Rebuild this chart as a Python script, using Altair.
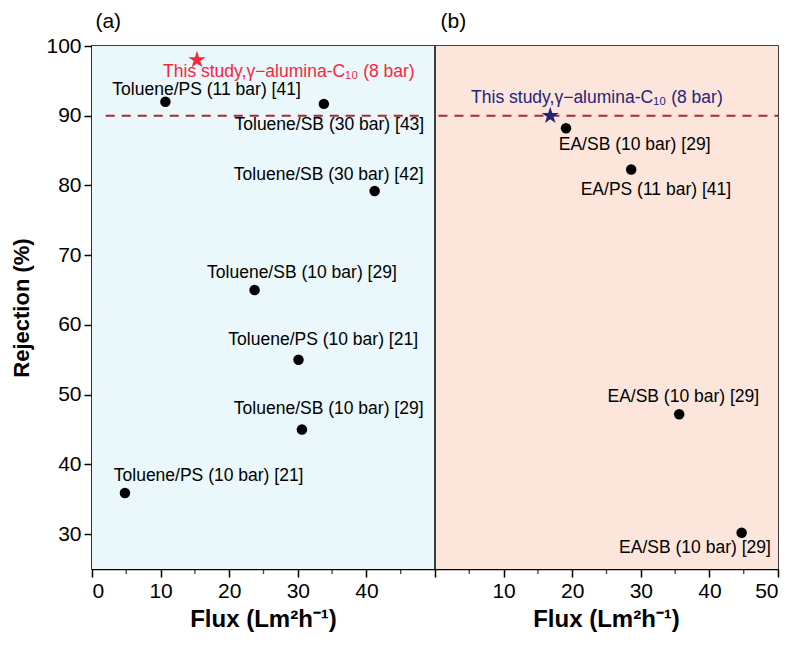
import altair as alt
import pandas as pd

FONT = "Liberation Sans"

# ---- data ----
left_flux = [10.7, 33.8, 41.2, 23.7, 30.1, 30.6, 4.8]
left_rej = [92.0, 91.7, 79.2, 65.0, 55.0, 45.0, 35.9]
left_labels = ["Toluene/PS (11 bar) [41]", "Toluene/SB (30 bar) [43]", "Toluene/SB (30 bar) [42]",
               "Toluene/SB (10 bar) [29]", "Toluene/PS (10 bar) [21]", "Toluene/SB (10 bar) [29]",
               "Toluene/PS (10 bar) [21]"]
left_label_x = [16.7, 34.6, 34.5, 30.6, 33.7, 34.5, 17.0]
left_label_y = [93.7, 88.7, 81.5, 67.4, 57.8, 47.9, 38.3]

right_flux = [19.1, 28.6, 35.6, 44.7]
right_rej = [88.2, 82.3, 47.2, 30.2]
right_labels = ["EA/SB (10 bar) [29]", "EA/PS (11 bar) [41]", "EA/SB (10 bar) [29]", "EA/SB (10 bar) [29]"]
right_label_x = [29.1, 32.2, 36.2, 37.9]
right_label_y = [85.8, 79.3, 49.6, 28.0]

study_label = "This study,γ−alumina-C₁₀ (8 bar)"
study_panel = ["a", "b"]
study_flux = [15.3, 16.8]
study_rej = [98.0, 90.0]
study_label_x = [28.7, 23.6]
study_label_y = [96.2, 92.6]
study_colors = ["#f5283c", "#24247a"]

threshold = 90
PANEL_SPAN = 50          # each panel's x axis runs 0..50
x_major = list(range(0, 101, 10))
x_minor = list(range(5, 100, 10))
y_ticks = [30, 40, 50, 60, 70, 80, 90, 100]

W, H = 686, 523

STAR_PATH = ("M0,-1L0.2245,-0.309L0.951,-0.309L0.363,0.118L0.588,0.809L0,0.382"
             "L-0.588,0.809L-0.363,0.118L-0.951,-0.309L-0.2245,-0.309Z")

pts_df = pd.DataFrame({
    "panel": ["a"] * len(left_flux) + ["b"] * len(right_flux),
    "flux": left_flux + right_flux,
    "rej": left_rej + right_rej,
    "label": left_labels + right_labels,
    "lx": left_label_x + right_label_x,
    "ly": left_label_y + right_label_y,
})
study_df = pd.DataFrame({"panel": study_panel, "flux": study_flux, "rej": study_rej,
                         "lx": study_label_x, "ly": study_label_y, "label": [study_label] * 2})

shift = "datum.panel == 'b' ? %d : 0" % PANEL_SPAN

xscale = alt.Scale(domain=[0, 2 * PANEL_SPAN], nice=False)
yscale = alt.Scale(domain=[25, 100], nice=False)
xaxis = alt.Axis(values=x_major, title=None,
                 labelExpr="datum.value == 50 ? '' : (datum.value > 50 ? '' + (datum.value - 50) : datum.label)")
yaxis = alt.Axis(values=y_ticks, title="Rejection (%)")
colscale = alt.Scale(domain=study_panel, range=study_colors)


def X(f):
    return alt.X(f, scale=xscale, axis=xaxis)


def Y(f):
    return alt.Y(f, scale=yscale, axis=yaxis)


def bg_rect(x0, x1, fill):
    d = pd.DataFrame({"x": [x0], "x2": [x1], "y": [25], "y2": [100]})
    return alt.Chart(d).mark_rect(opacity=1, color=fill).encode(
        x=X("x:Q"), x2="x2:Q", y=Y("y:Q"), y2="y2:Q")


bg_a = bg_rect(0, 50, "#eaf7fb")
bg_b = bg_rect(50, 100, "#fce6dc")

line_df = pd.DataFrame({"x": [2, 50.5], "x2": [48.5, 100], "y": [threshold, threshold]})
dashed = alt.Chart(line_df).mark_rule(strokeDash=[9, 7], color="#a8283c", strokeWidth=2.2).encode(
    x=X("x:Q"), x2="x2:Q", y=Y("y:Q"))

sep = alt.Chart(pd.DataFrame({"x": [50]})).mark_rule(color="black", strokeWidth=1.5).encode(x=X("x:Q"))

base_pts = alt.Chart(pts_df).transform_calculate(px="datum.flux + (" + shift + ")",
                                                 plx="datum.lx + (" + shift + ")")
pts = base_pts.mark_circle(size=110, color="black", opacity=1).encode(x=X("px:Q"), y=Y("rej:Q"))
txt = base_pts.mark_text(font=FONT, fontSize=17.5, color="black", baseline="middle").encode(
    x=X("plx:Q"), y=Y("ly:Q"), text="label:N")

base_st = alt.Chart(study_df).transform_calculate(px="datum.flux + (" + shift + ")",
                                                  plx="datum.lx + (" + shift + ")")
star = base_st.mark_point(shape=STAR_PATH, filled=True, size=330, opacity=1, strokeWidth=0).encode(
    x=X("px:Q"), y=Y("rej:Q"), color=alt.Color("panel:N", scale=colscale, legend=None))
star_txt = base_st.mark_text(font=FONT, fontSize=17.5, baseline="middle").encode(
    x=X("plx:Q"), y=Y("ly:Q"), text="label:N", color=alt.Color("panel:N", scale=colscale, legend=None))

minor = alt.Chart(pd.DataFrame({"m": x_minor})).mark_tick(
    color="black", thickness=1.4, size=5, orient="vertical").encode(x=X("m:Q"), y=alt.value(H + 2.5))

xt_df = pd.DataFrame({"x": [25, 75], "t": ["Flux (Lm²h⁻¹)"] * 2})
xtitles = alt.Chart(xt_df).mark_text(font=FONT, fontSize=24, fontWeight="bold", color="black",
                                     baseline="middle").encode(x=X("x:Q"), y=alt.value(H + 51), text="t:N")

pt_df = pd.DataFrame({"x": [0.5, 50.8], "t": ["(a)", "(b)"]})
ptitles = alt.Chart(pt_df).mark_text(font=FONT, fontSize=21, color="black", align="left",
                                     baseline="middle").encode(x=X("x:Q"), y=alt.value(-24), text="t:N")

chart = alt.layer(bg_a, bg_b, dashed, sep, pts, star, txt, star_txt, minor, xtitles, ptitles).properties(
    width=W, height=H,
    autosize=alt.AutoSizeParams(type="none"),
    padding={"left": 92, "top": 46, "right": 12, "bottom": 80},
).configure_axis(
    grid=False, domainColor="black", domainWidth=1.5, tickColor="black", tickWidth=1.5, tickSize=8,
    labelFont=FONT, labelFontSize=21, labelColor="black", labelPadding=3,
    titleFont=FONT, titleFontSize=22, titleFontWeight="bold", titleColor="black", titlePadding=12,
).configure_view(stroke="black", strokeWidth=1.5)

chart.save("out.html", embed_options={"renderer": "svg", "actions": False})
